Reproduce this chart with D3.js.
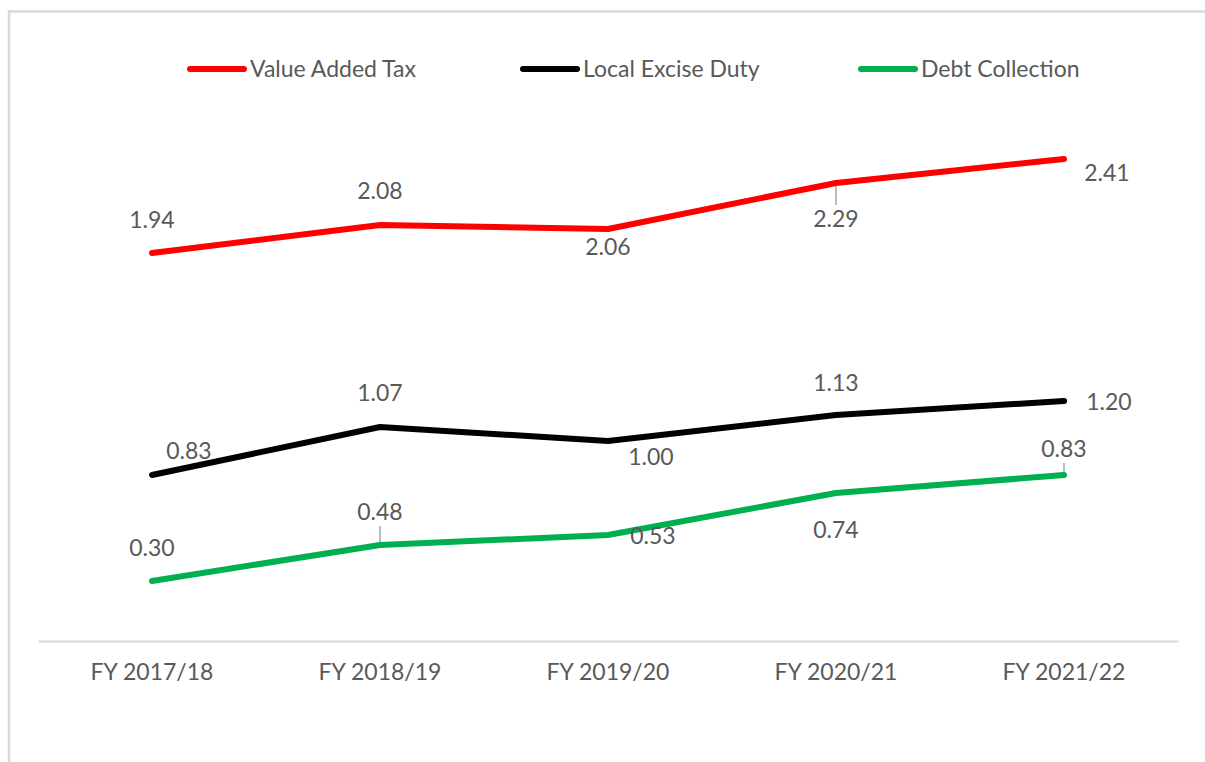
<!DOCTYPE html>
<html>
<head>
    <meta charset="utf-8">
    <title>Revenue Lines</title>
    <script type="text/javascript" src="https://cdn.jsdelivr.net/npm/d3@7/dist/d3.min.js"></script>
    <style>
        body { margin: 0; background: #fff; }
        text { font-family: Lato, "Open Sans", sans-serif; fill: #595959; }
    </style>
</head>
<body>
<script type="text/javascript">

    // chart data
    var categories = ["FY 2017/18", "FY 2018/19", "FY 2019/20", "FY 2020/21", "FY 2021/22"];
    var seriesNames = ["Value Added Tax", "Local Excise Duty", "Debt Collection"];
    var vatValues = [1.94, 2.08, 2.06, 2.29, 2.41];
    var exciseValues = [0.83, 1.07, 1.00, 1.13, 1.20];
    var debtValues = [0.30, 0.48, 0.53, 0.74, 0.83];

    var colors = ["#FF0000", "#000000", "#00B050"];

    // where excel put each data label, relative to its point (dx, dy, leader line)
    var labelPlacement = [
        [[0, -33], [0, -34], [0, 18], [0, 36, true], [43, 14]],
        [[37, -24], [0, -34], [43, 16], [0, -32], [45, 1]],
        [[0, -33], [0, -33, true], [45, 1], [0, 37], [0, -26, true]]
    ];

    var width = 1205, height = 762;
    var margins = {top: 41, left: 38, right: 27, bottom: 121};

    var svg = d3.select("body").append("svg")
            .attr("width", width)
            .attr("height", height);

    // outer frame, right and bottom sides run off the picture
    svg.append("rect")
            .attr("x", 9)
            .attr("y", 11.5)
            .attr("width", 1400)
            .attr("height", 900)
            .attr("fill", "none")
            .attr("stroke", "#D9D9D9")
            .attr("stroke-width", 2.5);

    var x = d3.scaleBand()
            .domain(categories)
            .range([margins.left, width - margins.right]);

    var y = d3.scaleLinear()
            .domain([0, 3])
            .range([height - margins.bottom, margins.top]);

    // x axis: just the baseline and the labels
    var xAxis = d3.axisBottom(x).tickSize(0).tickPadding(23);
    var axisG = svg.append("g")
            .attr("transform", "translate(0," + y(0) + ")")
            .call(xAxis);
    axisG.select(".domain")
            .attr("stroke", "#D9D9D9")
            .attr("stroke-width", 2);
    axisG.selectAll("text")
            .attr("font-size", 23)
            .attr("font-family", "Lato, 'Open Sans', sans-serif")
            .style("fill", "#595959");

    var series = [vatValues, exciseValues, debtValues];

    var line = d3.line()
            .x(function (d, i) { return x(categories[i]) + x.bandwidth() / 2; })
            .y(function (d) { return y(d); });

    svg.append("g").selectAll("path")
            .data(series)
            .enter()
            .append("path")
            .attr("d", line)
            .attr("fill", "none")
            .attr("stroke", function (d, i) { return colors[i]; })
            .attr("stroke-width", 6)
            .attr("stroke-linecap", "round")
            .attr("stroke-linejoin", "round");

    // data labels
    series.forEach(function (vals, s) {
        var g = svg.append("g");
        vals.forEach(function (v, i) {
            var px = x(categories[i]) + x.bandwidth() / 2,
                py = y(v),
                p = labelPlacement[s][i];
            if (p[2]) {
                var dir = p[1] < 0 ? -1 : 1;
                g.append("line")
                        .attr("x1", px)
                        .attr("y1", py + dir * 3)
                        .attr("x2", px)
                        .attr("y2", py + p[1] - dir * 14)
                        .attr("stroke", "#A6A6A6")
                        .attr("stroke-width", 1.5);
            }
            g.append("text")
                    .attr("x", px + p[0])
                    .attr("y", py + p[1])
                    .attr("dy", "0.35em")
                    .attr("text-anchor", "middle")
                    .attr("font-size", 23)
                    .text(v.toFixed(2));
        });
    });

    // legend
    var legendX = [187, 520, 858];
    var legend = svg.append("g").selectAll("g")
            .data(seriesNames)
            .enter()
            .append("g")
            .attr("transform", function (d, i) { return "translate(" + legendX[i] + ",69)"; });
    legend.append("line")
            .attr("x1", 3)
            .attr("x2", 57)
            .attr("stroke", function (d, i) { return colors[i]; })
            .attr("stroke-width", 6)
            .attr("stroke-linecap", "round");
    legend.append("text")
            .attr("x", 63)
            .attr("dy", "0.35em")
            .attr("font-size", 23)
            .text(function (d) { return d; });

</script>
</body>
</html>
